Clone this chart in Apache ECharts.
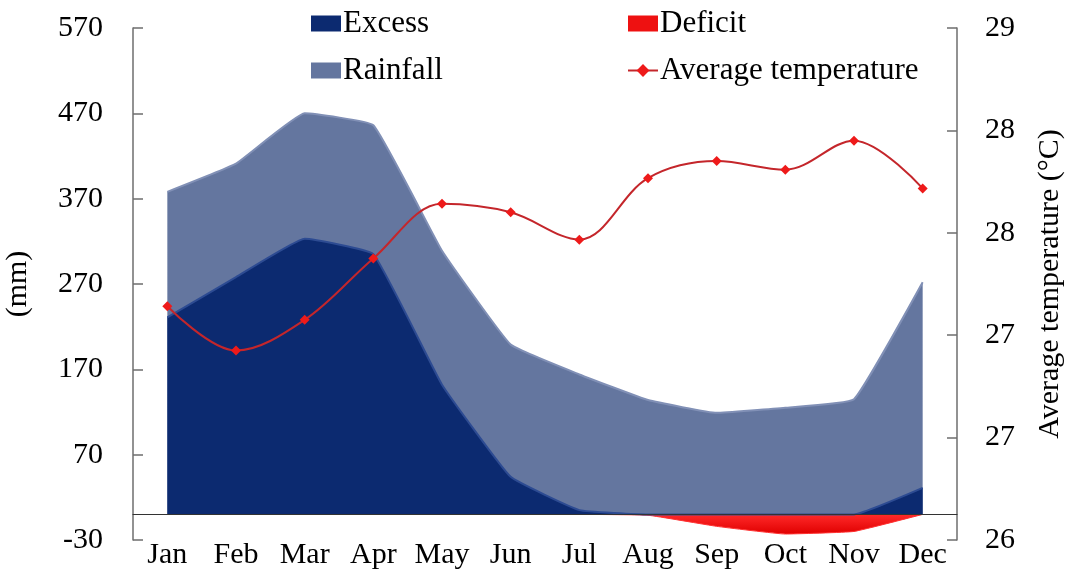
<!DOCTYPE html>
<html>
<head>
<meta charset="utf-8">
<script src="https://cdn.jsdelivr.net/npm/echarts@6/dist/echarts.min.js"></script>
<style>
  html, body { margin: 0; padding: 0; background: #fff; }
  #main { width: 1068px; height: 573px; }
</style>
</head>
<body>
<div id="main"></div>
<script>
const months = ['Jan', 'Feb', 'Mar', 'Apr', 'May', 'Jun', 'Jul', 'Aug', 'Sep', 'Oct', 'Nov', 'Dec']
const rainfall = [378, 411, 470, 456, 309, 199, 164, 134, 119, 125, 135, 272]
const excess = [231, 278, 323, 305, 152, 44, 5, 0, 0, 0, 0, 31]
const deficit = [null, null, null, null, null, null, 0, -1, -14, -23, -20, 0]
const avgTemp = [27.37, 27.11, 27.29, 27.65, 27.97, 27.92, 27.76, 28.12, 28.22, 28.17, 28.34, 28.06]
// tick labels as printed on the two value axes
const mmTicks = ['-30', '70', '170', '270', '370', '470', '570']
const tempTicks = ['26', '27', '27', '28', '28', '29']

const font = 'Liberation Serif'
const axisGray = '#6e6e6e'

const chart = echarts.init(document.getElementById('main'))
chart.setOption({
  animation: false,
  textStyle: { fontFamily: font, color: '#000' },
  grid: { left: 133, right: 111, top: 28, bottom: 33, outerBoundsMode: 'none', containLabel: false },
  legend: [{
    left: 306, top: 3, orient: 'vertical', itemGap: 16,
    itemWidth: 30, itemHeight: 16, itemStyle: { borderWidth: 0 },
    textStyle: { fontFamily: font, fontSize: 31, color: '#000', padding: [0, 0, 0, -3] },
    data: [{ name: 'Excess', icon: 'rect' }, { name: 'Rainfall', icon: 'rect' }]
  }, {
    left: 622, top: 3, orient: 'vertical', itemGap: 16,
    itemWidth: 30, itemHeight: 16,
    textStyle: { fontFamily: font, fontSize: 31, color: '#000', padding: [0, 0, 0, -3] },
    data: [{ name: 'Deficit', icon: 'rect' }, { name: 'Average temperature' }]
  }],
  xAxis: {
    type: 'category',
    data: months,
    boundaryGap: true,
    z: 5,
    axisLine: { onZero: true, onZeroAxisIndex: 0, lineStyle: { color: '#333', width: 1.2 } },
    axisTick: { inside: true, length: 8, lineStyle: { color: '#333' } },
    axisLabel: { interval: 0, margin: 0, fontSize: 30, color: '#000', fontFamily: font }
  },
  yAxis: [{
    // mm data axis
    type: 'value', min: -30, max: 570, show: false
  }, {
    // temperature data axis
    type: 'value', min: 26, max: 29, show: false
  }, {
    // display scale for the mm axis
    type: 'value', position: 'left', min: 0, max: 600, interval: 100,
    name: '(mm)', nameLocation: 'middle', nameGap: 100, nameRotate: 90,
    nameTextStyle: { fontSize: 30, color: '#000', fontFamily: font },
    splitLine: { show: false },
    axisLine: { show: true, lineStyle: { color: axisGray, width: 1.5 } },
    axisTick: { show: true, inside: true, length: 10, lineStyle: { color: axisGray, width: 1.5 } },
    axisLabel: { margin: 30, fontSize: 30, color: '#000', fontFamily: font, formatter: v => mmTicks[Math.round(v / 100)] }
  }, {
    // display scale for the temperature axis
    type: 'value', position: 'right', min: 0, max: 5, interval: 1,
    name: 'Average temperature (°C)', nameLocation: 'middle', nameGap: 78, nameRotate: 90,
    nameTextStyle: { fontSize: 30, color: '#000', fontFamily: font },
    splitLine: { show: false },
    axisLine: { show: true, lineStyle: { color: axisGray, width: 1.5 } },
    axisTick: { show: true, inside: true, length: 10, lineStyle: { color: axisGray, width: 1.5 } },
    axisLabel: { margin: 28, fontSize: 30, color: '#000', fontFamily: font, formatter: v => tempTicks[Math.round(v)] }
  }],
  series: [{
    name: 'Rainfall', type: 'line', yAxisIndex: 0, data: rainfall,
    smooth: 0.1, symbol: 'none', z: 1,
    itemStyle: { color: '#64769f' },
    lineStyle: { color: '#8190b6', width: 2 },
    areaStyle: { color: '#64769f', opacity: 1 }
  }, {
    name: 'Deficit', type: 'line', yAxisIndex: 0, data: deficit,
    smooth: 0.1, symbol: 'none', z: 2,
    itemStyle: { color: '#ee1111' },
    lineStyle: { color: '#ff3030', width: 1 },
    areaStyle: {
      opacity: 1,
      color: new echarts.graphic.LinearGradient(0, 0, 0, 1, [
        { offset: 0, color: '#ff2a2a' }, { offset: 1, color: '#e00000' }
      ])
    }
  }, {
    name: 'Excess', type: 'line', yAxisIndex: 0, data: excess,
    smooth: 0.1, symbol: 'none', z: 3,
    itemStyle: { color: '#0c2a70' },
    lineStyle: { color: '#2d4b92', width: 2 },
    areaStyle: { color: '#0c2a70', opacity: 1 }
  }, {
    name: 'Average temperature', type: 'line', yAxisIndex: 1, data: avgTemp,
    smooth: 0.35, symbol: 'diamond', symbolSize: 10, z: 4,
    itemStyle: { color: '#ee1a1a' },
    lineStyle: { color: '#c4262b', width: 2 }
  }]
})
</script>
</body>
</html>
